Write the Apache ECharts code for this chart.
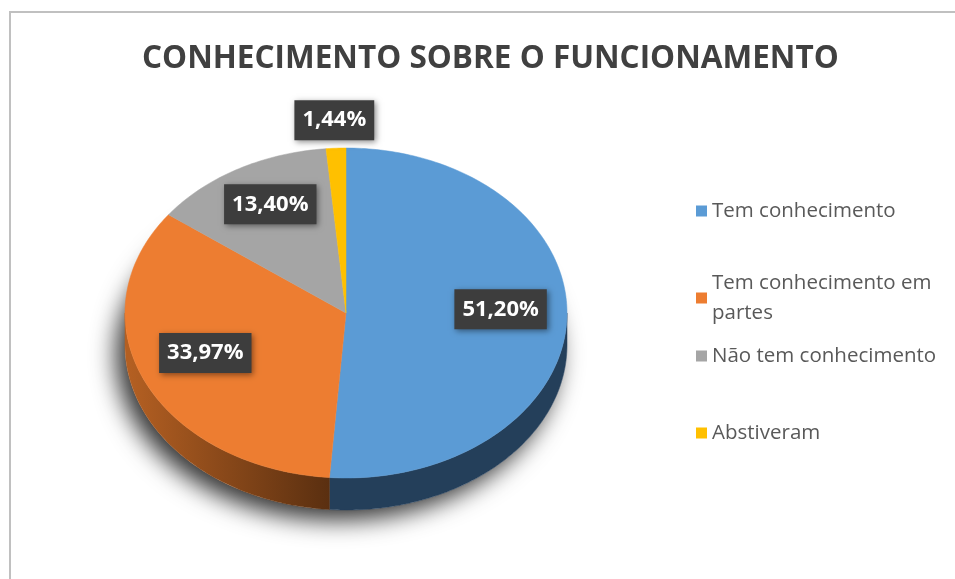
<!DOCTYPE html>
<html>
<head>
<meta charset="utf-8">
<script src="https://cdn.jsdelivr.net/npm/echarts@6/dist/echarts.min.js"></script>
<style>
  html, body { margin: 0; padding: 0; background: #fff; }
  #grafico { width: 955px; height: 579px; }
</style>
</head>
<body>
<div id="grafico"></div>
<script>
// dados
const categorias = ['Tem conhecimento', 'Tem conhecimento em partes', 'Não tem conhecimento', 'Abstiveram'];
const percentuais = [51.20, 33.97, 13.40, 1.44];

// cores (face superior e lateral)
const cores = ['#5b9bd5', '#ed7d31', '#a5a5a5', '#ffc000'];
const coresLateral = [
  '#243f5a',
  { type: 'linear', x: 130, y: 0, x2: 330, y2: 0, global: true,
    colorStops: [{ offset: 0, color: '#b35f22' }, { offset: 1, color: '#5a2f10' }] },
  '#5a5a5a',
  '#8a6a00'
];

// geometria da pizza 3D (elipse)
const CX = 346, CY = 313, RX = 221, RY = 165, ALTURA = 32;

const total = percentuais.reduce((a, b) => a + b, 0);

function ponto(theta, dy) {
  const r = theta * Math.PI / 180;
  return [CX + RX * Math.sin(r), CY - RY * Math.cos(r) + (dy || 0)];
}

function arco(a1, a2, dy) {
  const pts = [];
  const passos = Math.max(2, Math.ceil(Math.abs(a2 - a1)));
  for (let k = 0; k <= passos; k++) {
    pts.push(ponto(a1 + (a2 - a1) * k / passos, dy));
  }
  return pts;
}

function angulos(i) {
  let inicio = 0;
  for (let j = 0; j < i; j++) inicio += percentuais[j];
  return [inicio / total * 360, (inicio + percentuais[i]) / total * 360];
}

function formatar(v) {
  return v.toFixed(2).replace('.', ',') + '%';
}

// sombra por baixo da pizza
const serieSombra = {
  type: 'custom',
  name: 'sombra',
  coordinateSystem: 'none',
  silent: true,
  z: 0,
  data: [0],
  renderItem: function () {
    return {
      type: 'polygon',
      shape: { points: arco(0, 360, ALTURA) },
      style: {
        fill: '#ffffff',
        shadowBlur: 24,
        shadowColor: 'rgba(0,0,0,0.8)',
        shadowOffsetX: -9,
        shadowOffsetY: 10
      }
    };
  }
};

// laterais
const seriesLateral = categorias.map((nome, i) => ({
  type: 'custom',
  name: nome,
  coordinateSystem: 'none',
  z: 1,
  itemStyle: { color: cores[i] },
  data: [percentuais[i]],
  renderItem: function (params, api) {
    const [a1, a2] = angulos(i);
    const lo = Math.max(a1, 90), hi = Math.min(a2, 270);
    if (lo >= hi) return { type: 'group', children: [] };
    const topo = arco(lo, hi, 0);
    const base = arco(hi, lo, ALTURA);
    return {
      type: 'polygon',
      shape: { points: topo.concat(base) },
      style: { fill: coresLateral[i], stroke: coresLateral[i], lineWidth: 0.5 }
    };
  }
}));

// faces superiores e rótulos
const seriesTopo = categorias.map((nome, i) => ({
  type: 'custom',
  name: nome,
  coordinateSystem: 'none',
  z: 2,
  itemStyle: { color: cores[i] },
  data: [percentuais[i]],
  renderItem: function (params, api) {
    const v = api.value(0);
    const [a1, a2] = angulos(i);
    const meio = (a1 + a2) / 2;
    const r = meio * Math.PI / 180;
    const fora = v < 5;
    const f = fora ? 1.17 : 0.7;
    const lx = CX + RX * f * Math.sin(r);
    const ly = CY - RY * f * Math.cos(r) - (fora ? 0 : 8);
    return {
      type: 'group',
      children: [
        {
          type: 'polygon',
          shape: { points: [[CX, CY]].concat(arco(a1, a2, 0)) },
          style: { fill: api.visual('color'), stroke: api.visual('color'), lineWidth: 0.5 }
        },
        {
          type: 'text',
          x: lx,
          y: ly,
          z2: 100,
          style: {
            text: formatar(v),
            fill: '#ffffff',
            font: 'bold 22px "Open Sans"',
            align: 'center',
            verticalAlign: 'middle',
            lineHeight: 24,
            backgroundColor: '#3d3d3d',
            padding: [8, 8, 8, 8],
            shadowBlur: 6,
            shadowColor: 'rgba(0,0,0,0.45)',
            shadowOffsetX: 2,
            shadowOffsetY: 2
          }
        }
      ]
    };
  }
}));

const topoLegenda = [196, 268, 341, 418];

const option = {
  animation: false,
  backgroundColor: '#ffffff',
  title: {
    text: 'CONHECIMENTO SOBRE O FUNCIONAMENTO',
    left: 137,
    top: 38,
    textStyle: {
      fontFamily: 'Open Sans',
      fontWeight: 'bold',
      fontSize: 31.5,
      color: '#404040'
    }
  },
  legend: categorias.map((nome, i) => ({
    data: [nome],
    orient: 'vertical',
    left: 696,
    top: topoLegenda[i],
    padding: 0,
    icon: 'rect',
    itemWidth: 11,
    itemHeight: 11,
    itemGap: 0,
    textStyle: {
      fontFamily: 'Open Sans',
      fontSize: 20.5,
      color: '#595959',
      lineHeight: 30,
      width: 240,
      overflow: 'break'
    }
  })),
  graphic: [{
    type: 'rect',
    silent: true,
    shape: { x: 10, y: 12, width: 1200, height: 1200 },
    style: { fill: 'none', stroke: '#c0c0c0', lineWidth: 2 }
  }],
  series: [serieSombra].concat(seriesLateral, seriesTopo)
};

const grafico = echarts.init(document.getElementById('grafico'));
grafico.setOption(option);
window.addEventListener('resize', () => grafico.resize(), false);
</script>
</body>
</html>
